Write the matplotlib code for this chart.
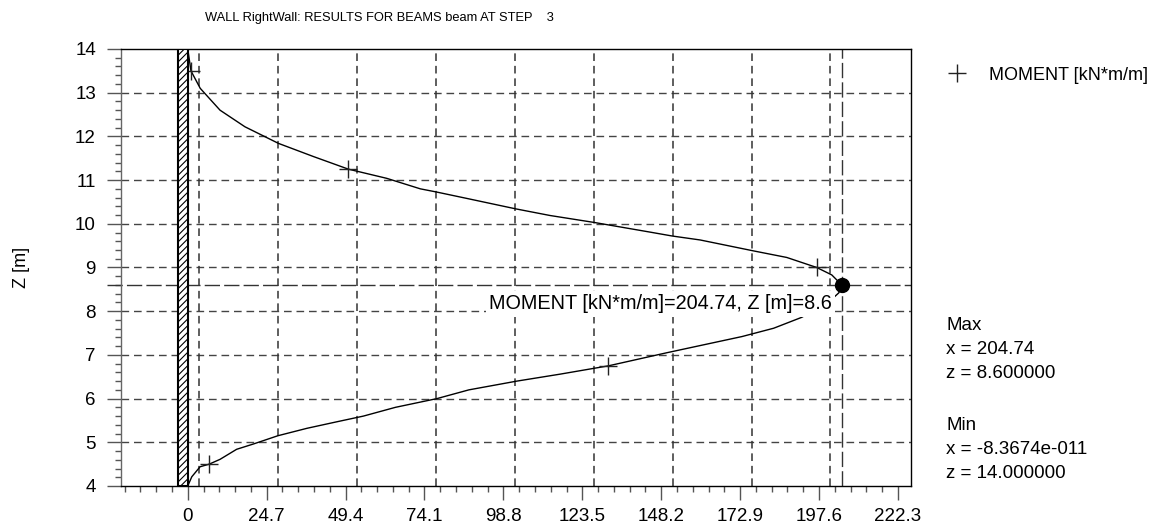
import matplotlib
matplotlib.use("Agg")
import matplotlib.pyplot as plt
from matplotlib import font_manager
from matplotlib.patches import Rectangle
from matplotlib.lines import Line2D
from matplotlib.ticker import FixedLocator, MultipleLocator

# Bending moment along the wall (kN*m/m) versus elevation Z (m)
moment = [0.0, 1.0, 3.9, 10.1, 17.9, 28.4, 39.3, 50.3, 62.3, 72.8, 77.7, 87.4,
          102.8, 113.4, 127.3, 144.7, 151.7, 160.4, 177.1, 187.5, 196.9, 201.6,
          204.74, 203.8, 200.5, 192.2, 183.4, 173.5, 150.0, 131.7, 116.6, 103.0,
          88.0, 78.0, 65.0, 55.0, 46.7, 37.3, 28.2, 20.5, 15.3, 10.1, 6.7, 3.85,
          1.25, 0.0]
depth_z = [14.0, 13.5, 13.10, 12.60, 12.22, 11.84, 11.54, 11.25, 11.04, 10.80,
           10.73, 10.58, 10.34, 10.19, 10.03, 9.81, 9.72, 9.63, 9.38, 9.23, 9.0,
           8.83, 8.6, 8.42, 8.2, 7.86, 7.61, 7.42, 7.05, 6.75, 6.56, 6.4, 6.2,
           6.0, 5.8, 5.6, 5.47, 5.32, 5.15, 4.96, 4.84, 4.61, 4.5, 4.44, 4.21, 4.0]
symbol_idx = [1, 7, 20, 29, 42]   # points carrying the '+' symbol

max_moment, max_z = 204.74, 8.6
min_moment, min_z = -8.3674e-11, 14.0

xtick_labels = ["0", "24.7", "49.4", "74.1", "98.8", "123.5", "148.2",
                "172.9", "197.6", "222.3"]
xtick_step = 24.7
ytick_values = list(range(4, 15))

title = "WALL RightWall: RESULTS FOR BEAMS beam AT STEP    3"
series_name = "MOMENT [kN*m/m]"

plt.rcParams["font.family"] = ["Liberation Sans", "DejaVu Sans"]
plt.rcParams["lines.scale_dashes"] = False
plt.rcParams["hatch.linewidth"] = 0.8

W, H = 1169, 528
fig = plt.figure(figsize=(W / 100, H / 100), dpi=100)
ax = fig.add_axes([121 / W, 1 - 486 / H, 790 / W, 437 / H])
ax.set_xlim(-20.9, 226.4)
ax.set_ylim(4, 14)

# ticks
xticks = [k * xtick_step for k in range(len(xtick_labels))]
ax.xaxis.set_major_locator(FixedLocator(xticks))
ax.set_xticklabels(xtick_labels)
ax.xaxis.set_minor_locator(MultipleLocator(xtick_step / 5))
ax.yaxis.set_major_locator(FixedLocator(ytick_values))
ax.set_yticklabels([str(v) for v in ytick_values])
ax.yaxis.set_minor_locator(MultipleLocator(0.2))
ax.tick_params(axis="both", which="major", direction="out", length=10,
               width=1, color="#555555", labelsize=13.5)
ax.tick_params(axis="both", which="minor", direction="out", length=4.3,
               width=1, color="#555555")
ax.tick_params(axis="x", which="major", pad=6)
ax.tick_params(axis="y", which="major", pad=8)
for side in ("top", "right", "bottom"):
    ax.spines[side].set_color("black")
    ax.spines[side].set_linewidth(1)
ax.spines["left"].set_color("#666666")
ax.spines["left"].set_linewidth(1)

# dashed grid
for z in ytick_values[1:-1]:
    ax.axhline(z, color="#444444", lw=1, dashes=(5.5, 3.5), zorder=1)
grid_offset = 3.6
for k in range(9):
    ax.axvline(grid_offset + k * xtick_step, color="#333333", lw=1.1,
               dashes=(5.5, 3.5), zorder=1)

# lines through the maximum
ax.axhline(max_z, xmin=-14 / 790, xmax=1, color="#333333", lw=1,
           dashes=(11, 3), clip_on=False, zorder=2)
ax.axvline(max_moment, color="#333333", lw=1, dashes=(11, 3), zorder=2)

# wall
ax.add_patch(Rectangle((-3, 4), 3, 10, facecolor="white", edgecolor="black",
                       hatch="/////", lw=1.5, zorder=4))

# moment curve
ax.plot(moment, depth_z, color="black", lw=1, marker="+", markevery=symbol_idx,
        ms=13, mew=1, mec="#222222", zorder=3)

# maximum label and point
ax.annotate(f"{series_name}={max_moment:g}, Z [m]={max_z:g}",
            xy=(max_moment, max_z), xytext=(-10, -19),
            textcoords="offset pixels", ha="right", va="center", fontsize=14.3,
            bbox=dict(boxstyle="square,pad=0.17", fc="white", ec="none"),
            zorder=5)
ax.plot([max_moment], [max_z], "o", color="black", ms=10, zorder=6)

ax.set_ylabel("Z [m]", fontsize=13)
ax.yaxis.set_label_coords((30 - 121) / 790, 0.5)

fig.text(205 / W, 1 - 17.5 / H, title, ha="left", va="center", fontsize=9.3)

# legend
handle = Line2D([], [], ls="none", marker="+", ms=13, mew=1, color="#222222")
fig.legend([handle], [series_name], loc="center left",
           bbox_to_anchor=(948 / W, 1 - 75 / H), frameon=False,
           fontsize=13, handlelength=1.0, handletextpad=1.25,
           borderpad=0, borderaxespad=0)


def sci3(v):
    mant, exp = f"{v:.4e}".split("e")
    sign = exp[0]
    return f"{mant}e{sign}{int(exp[1:]):03d}"


stats = [("Max", 326), (f"x = {max_moment:g}", 350), (f"z = {max_z:.6f}", 374),
         ("Min", 425), (f"x = {sci3(min_moment)}", 449), (f"z = {min_z:.6f}", 473)]
for txt, ypx in stats:
    fig.text(946 / W, 1 - ypx / H, txt, ha="left", va="center", fontsize=13.5)

fig.savefig("out.png", dpi=100)
